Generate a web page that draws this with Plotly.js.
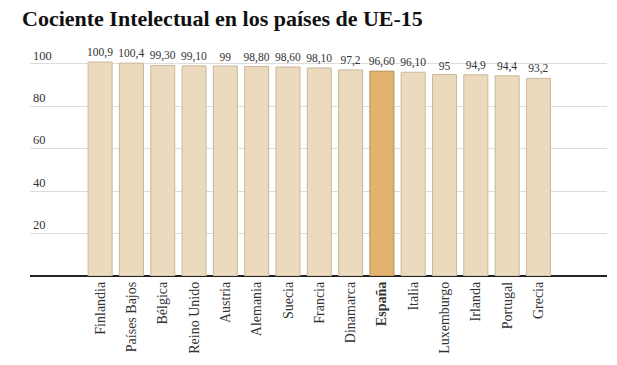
<!DOCTYPE html>
<html><head><meta charset="utf-8">
<script src="https://cdn.plot.ly/plotly-3.0.1.min.js"></script>
<style>body{margin:0;background:#fff}#chart{width:617px;height:365px}</style>
</head><body><div id="chart"></div>
<script>
const countries = ["Finlandia","Países Bajos","Bélgica","Reino Unido","Austria","Alemania","Suecia","Francia","Dinamarca","España","Italia","Luxemburgo","Irlanda","Portugal","Grecia"];
const tickLabels = ["Finlandia","Países Bajos","Bélgica","Reino Unido","Austria","Alemania","Suecia","Francia","Dinamarca","<b>España</b>","Italia","Luxemburgo","Irlanda","Portugal","Grecia"];
const iq = [100.9,100.4,99.3,99.1,99,98.8,98.6,98.1,97.2,96.6,96.1,95,94.9,94.4,93.2];
const valueLabels = ["100,9","100,4","99,30","99,10","99","98,80","98,60","98,10","97,2","96,60","96,10","95","94,9","94,4","93,2"];
const highlight = "España";
const yTicks = [20,40,60,80,100];

const fill = countries.map(c => c === highlight ? "#E3B46F" : "#EBDABD");
const line = countries.map(c => c === highlight ? "#B38C52" : "#C9B899");

const trace = {
  type: "bar",
  x: countries,
  y: iq,
  text: valueLabels,
  textposition: "outside",
  constraintext: "none",
  cliponaxis: false,
  textfont: {family: "Liberation Serif", size: 11.5, color: "#333"},
  marker: {color: fill, line: {color: line, width: 1}},
  hoverinfo: "none"
};

const layout = {
  width: 617, height: 365,
  margin: {l: 30, r: 10, t: 47, b: 89},
  paper_bgcolor: "#fff", plot_bgcolor: "#fff",
  bargap: 0.233,
  showlegend: false,
  title: {
    text: "<b>Cociente Intelectual en los países de UE-15</b>",
    x: 22/617, xref: "container", xanchor: "left",
    y: 1 - 18/365, yref: "container", yanchor: "middle",
    font: {family: "Liberation Serif", size: 22, color: "#111"}
  },
  xaxis: {
    type: "category",
    range: [-2.24, 16.19],
    tickvals: countries,
    ticktext: tickLabels,
    tickangle: -90,
    ticks: "",
    ticklabelstandoff: 2,
    showgrid: false,
    showline: false,
    zeroline: false,
    tickfont: {family: "Liberation Serif", size: 14, color: "#333"},
    fixedrange: true
  },
  yaxis: {
    range: [0, 108],
    tickvals: yTicks,
    ticktext: yTicks.map(String),
    ticklabelposition: "inside top",
    ticks: "",
    showgrid: true,
    gridcolor: "#DDDDDD",
    gridwidth: 1,
    zeroline: true,
    zerolinecolor: "#222",
    zerolinewidth: 1.5,
    showline: false,
    tickfont: {family: "Liberation Serif", size: 12.5, color: "#333"},
    fixedrange: true
  }
};

Plotly.newPlot("chart", [trace], layout, {displayModeBar: false, staticPlot: true});
</script>
</body></html>
